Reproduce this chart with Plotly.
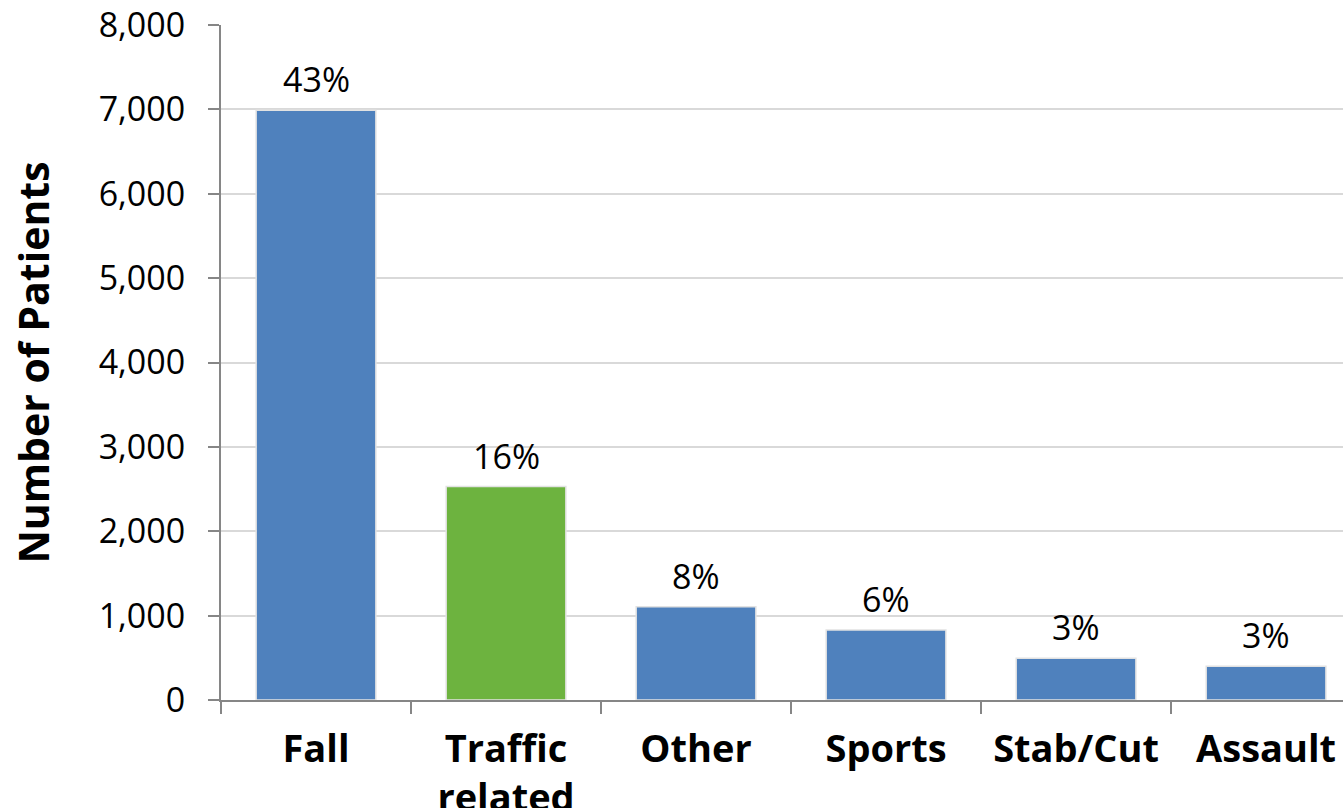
import plotly.graph_objects as go

categories = ["Fall", "Traffic<br>related", "Other", "Sports", "Stab/Cut", "Assault"]
patients = [6990, 2530, 1105, 830, 495, 400]
percent_labels = ["43%", "16%", "8%", "6%", "3%", "3%"]
bar_colors = ["#4f81bd", "#6db33f", "#4f81bd", "#4f81bd", "#4f81bd", "#4f81bd"]

y_ticks = [0, 1000, 2000, 3000, 4000, 5000, 6000, 7000, 8000]

FONT = "Open Sans, Noto Sans, sans-serif"

fig = go.Figure(
    go.Bar(
        x=categories,
        y=patients,
        width=0.63,
        marker=dict(color=bar_colors, line=dict(color="#e2e2e2", width=1.5)),
        hoverinfo="x+y",
    )
)

# percentage labels sitting above each bar
for cat, val, lab in zip(categories, patients, percent_labels):
    fig.add_annotation(
        x=cat,
        y=val,
        text=lab,
        showarrow=False,
        yanchor="bottom",
        yshift=6,
        font=dict(size=34, color="#000000", family=FONT),
    )

fig.update_layout(
    width=1343,
    height=808,
    margin=dict(l=221, r=0, t=25, b=108),
    paper_bgcolor="white",
    plot_bgcolor="white",
    font=dict(family=FONT, color="#000000"),
    showlegend=False,
)

fig.update_xaxes(
    range=[-0.5, 5.405],
    automargin=False,
    showline=True,
    linecolor="#868686",
    linewidth=2,
    ticks="outside",
    tickson="boundaries",
    ticklen=12,
    tickwidth=2,
    tickcolor="#868686",
    ticklabelstandoff=14,
    tickfont=dict(size=38, family=FONT, weight="bold"),
    showgrid=False,
)

fig.update_yaxes(
    range=[0, 8000],
    automargin=False,
    tickvals=y_ticks,
    tickformat=",d",
    showline=True,
    linecolor="#868686",
    linewidth=2,
    ticks="outside",
    ticklen=11,
    tickwidth=2,
    tickcolor="#868686",
    ticklabelstandoff=16,
    tickfont=dict(size=34),
    showgrid=True,
    gridcolor="#d9d9d9",
    gridwidth=2,
    title=dict(
        text="Number of Patients",
        font=dict(size=41, weight="bold"),
        standoff=36,
    ),
)

fig.write_html("out.html")
